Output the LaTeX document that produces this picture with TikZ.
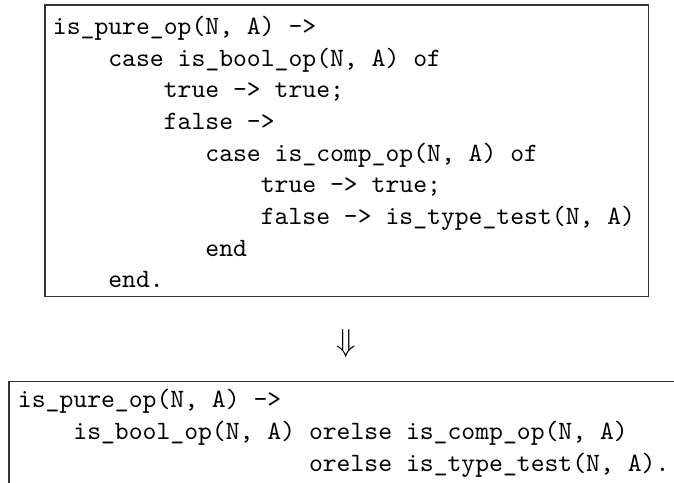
\documentclass[tikz,border=0pt]{standalone}
\usepackage{amsmath}
\usepackage{amssymb}
\usepackage{tikz}

\begin{document}
\begin{tikzpicture}[x=1pt, y=1pt,
    codeline/.style={font=\ttfamily, inner sep=0pt, anchor=base west},
    codeframe/.style={draw=black!80, line width=0.45pt}]
  \useasboundingbox (0,0) rectangle (255.3,-182.6);
  \clip (0,0) rectangle (255.3,-182.6);

  % nested case version
  \draw [codeframe] (17.05,-1.9) rectangle (245.5,-112.3);
  \node[codeline] (old1) at (19.85,-13.0) {is\_pure\_op(N, A) ->};
  \node[codeline] (old2) at (40.85,-25.0) {case is\_bool\_op(N, A) of};
  \node[codeline] (old3) at (61.85,-37.0) {true -> true;};
  \node[codeline] (old4) at (61.85,-49.0) {false ->};
  \node[codeline] (old5) at (77.60,-61.0) {case is\_comp\_op(N, A) of};
  \node[codeline] (old6) at (98.60,-73.0) {true -> true;};
  \node[codeline] (old7) at (98.60,-85.0) {false -> is\_type\_test(N, A)};
  \node[codeline] (old8) at (77.60,-97.0) {end};
  \node[codeline] (old9) at (40.85,-109.0) {end.};

  \node (arrow) at (131.06,-130.3) {\large $\Downarrow$};

  % orelse version
  \draw [codeframe] (3.41,-144.5) rectangle (262,-195);
  \node[codeline] (new1) at (6.60,-154.5) {is\_pure\_op(N, A) ->};
  \node[codeline] (new2) at (27.60,-166.5) {is\_bool\_op(N, A) orelse is\_comp\_op(N, A)};
  \node[codeline] (new3) at (116.85,-178.5) {orelse is\_type\_test(N, A).};
\end{tikzpicture}
\end{document}
